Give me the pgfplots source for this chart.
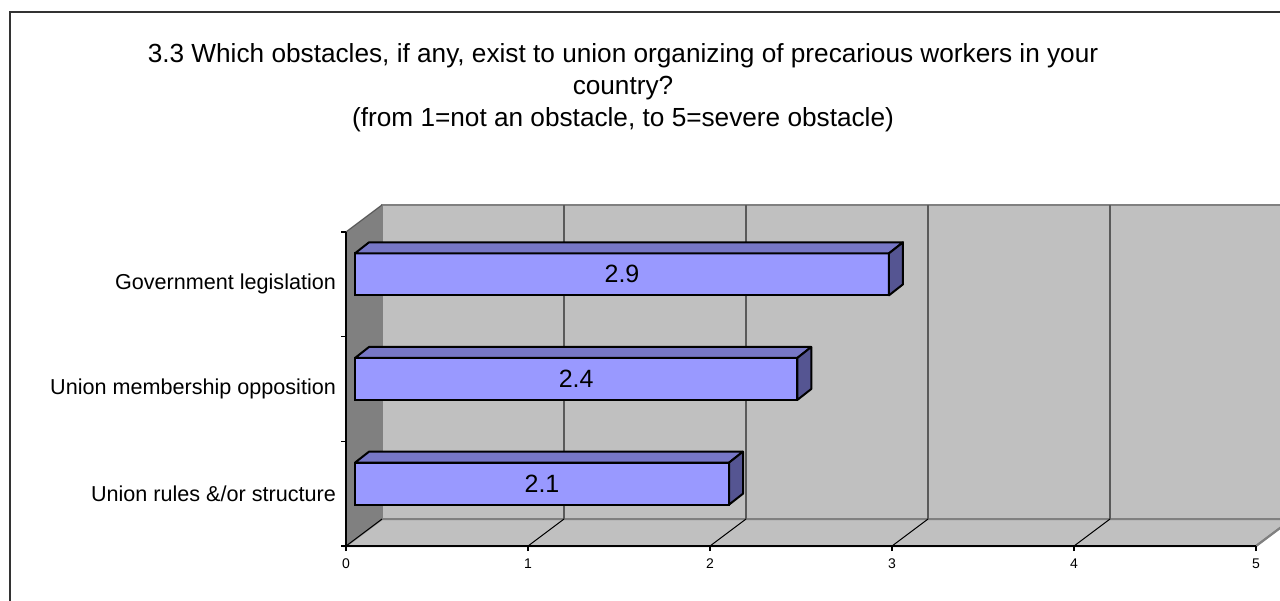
\documentclass[border=0pt]{standalone}
\usepackage{pgfplots}
\pgfplotsset{compat=1.18}
\usepackage{pgfplotstable}
\usepackage{fontspec}
\setmainfont{Liberation Sans}
\definecolor{barfront}{HTML}{9999FF}
\definecolor{bartop}{HTML}{7777C6}
\definecolor{barside}{HTML}{555592}
\definecolor{wall}{HTML}{C0C0C0}
\definecolor{sidewall}{HTML}{808080}
\definecolor{wallline}{HTML}{808080}
\definecolor{gridc}{HTML}{5A5A5A}
\pgfdeclareplotmark{blank}{}
\pgfplotstableread{
y v
0 2.055
1 2.43
2 2.934
}\data
\begin{document}
\begin{tikzpicture}
\clip (0,0) rectangle (640pt,300pt);
\fill[white] (0,0) rectangle (640pt,300pt);
\draw[line width=1pt, color=black!80] (5pt,-10pt) rectangle (660pt,294pt);
\begin{scope}[every node/.style={anchor=base, inner sep=0pt, font=\fontsize{13.1}{15}\selectfont}]
\node at (311.5pt,268.5pt) {3.3 Which obstacles, if any, exist to union organizing of precarious workers in your};
\node at (311.5pt,252.5pt) {country?};
\node at (311.5pt,236.5pt) {(from 1=not an obstacle, to 5=severe obstacle)};
\end{scope}
\begin{axis}[at={(173pt,27pt)}, anchor=south west, scale only axis,
  width=455pt, height=157pt, xmin=0, xmax=5, ymin=-0.5, ymax=2.5,
  clip=false, axis on top,
  axis x line*=bottom, axis y line*=left,
  axis line style={black, line width=0.6pt, -},
  xtick={0,1,2,3,4,5},
  ytick={0,1,2},
  yticklabels={Union rules \&/or structure, Union membership opposition, Government legislation},
  minor ytick={-0.5,0.5,1.5,2.5},
  tick align=outside, major tick length=2.5pt, minor tick length=2.5pt,
  major y tick style={draw=none},
  minor y tick style={draw=black, line width=0.6pt},
  major x tick style={draw=black, line width=0.6pt},
  /pgf/number format/assume math mode=true,
  xticklabel style={font=\fontsize{7}{8}\selectfont, yshift=-0.5pt},
  yticklabel style={font=\fontsize{10.8}{12}\selectfont, xshift=1pt},
]
\fill[wall] ([shift={(18pt,13.5pt)}]axis cs:0,-0.5) rectangle ([shift={(18pt,13.5pt)}]axis cs:5,2.5);
\fill[wall, draw=wallline, line width=1pt] (axis cs:0,-0.5) -- (axis cs:5,-0.5) -- ([shift={(18pt,13.5pt)}]axis cs:5,-0.5) -- ([shift={(18pt,13.5pt)}]axis cs:0,-0.5) -- cycle;
\fill[sidewall] (axis cs:0,-0.5) -- (axis cs:0,2.5) -- ([shift={(18pt,13.5pt)}]axis cs:0,2.5) -- ([shift={(18pt,13.5pt)}]axis cs:0,-0.5) -- cycle;
\draw[wallline, line width=1pt] ([shift={(18pt,13.5pt)}]axis cs:0,-0.5) -- ([shift={(18pt,13.5pt)}]axis cs:0,2.5) -- ([shift={(18pt,13.5pt)}]axis cs:5.5,2.5);
\draw[gridc, line width=0.6pt] (axis cs:0,2.5) -- ([shift={(18pt,13.5pt)}]axis cs:0,2.5);
\pgfplotsinvokeforeach{1,2,3,4}{
  \draw[gridc, line width=0.7pt] ([shift={(18pt,13.5pt)}]axis cs:#1,-0.5) -- ([shift={(18pt,13.5pt)}]axis cs:#1,2.5);
}
\pgfplotsinvokeforeach{0,1,2,3,4}{
  \draw[black, line width=0.5pt] (axis cs:#1,-0.5) -- ([shift={(18pt,13.5pt)}]axis cs:#1,-0.5);
}
\draw[wallline, line width=1pt] (axis cs:5,-0.5) -- ([shift={(18pt,13.5pt)}]axis cs:5,-0.5);
\addplot[xbar, bar width=21pt, fill=barfront, draw=black, line width=1pt, xshift=4.5pt, yshift=5pt] table[x=v, y=y] {\data};
\addplot[scatter, only marks, mark=blank, xshift=4.5pt, yshift=5pt,
  visualization depends on={rawx \as \barval},
  scatter/@pre marker code/.code={%
    \pgfmathsetmacro\barL{\barval*91}%
    \pgfmathsetmacro\barLh{\barval*45.5}%
    \pgfmathsetmacro\barLb{7-\barL}%
    \filldraw[fill=bartop, draw=black, line width=1pt, line join=round] (-\barL pt,10.5pt) -- (0pt,10.5pt) -- (7pt,16pt) -- (\barLb pt,16pt) -- cycle;
    \filldraw[fill=barside, draw=black, line width=1pt, line join=round] (0pt,-10.5pt) -- (0pt,10.5pt) -- (7pt,16pt) -- (7pt,-5pt) -- cycle;
    \node[font=\fontsize{12.5}{14}\selectfont, text=black] at (-\barLh pt,0pt) {\pgfmathprintnumber[fixed,precision=1]{\barval}};
  },
  scatter/@post marker code/.code={}
] table[x=v, y=y] {\data};
\end{axis}
\end{tikzpicture}
\end{document}
